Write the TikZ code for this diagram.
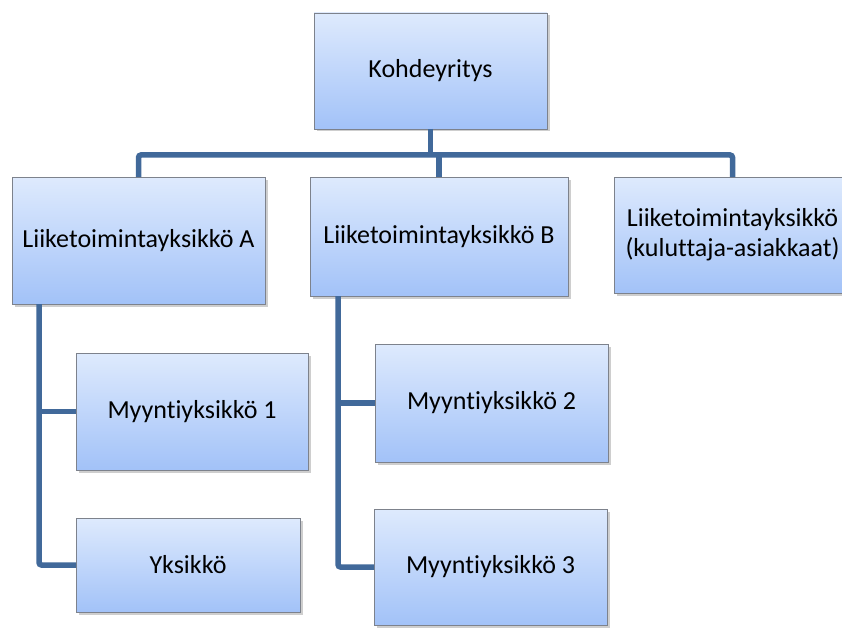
\documentclass[tikz,border=0pt]{standalone}
\usepackage{fontspec}
\setmainfont[Ligatures=NoCommon]{Carlito}
\usetikzlibrary{shadows}

\definecolor{boxtop}{RGB}{222,234,253}
\definecolor{boxbottom}{RGB}{162,194,248}
\definecolor{boxline}{RGB}{125,130,140}
\definecolor{linkblue}{RGB}{65,105,154}

\tikzset{
  unit/.style={rectangle, draw=boxline, line width=0.8pt,
    top color=boxtop, bottom color=boxbottom,
    drop shadow={shadow xshift=2.5pt, shadow yshift=-2.5pt, fill=gray!70, opacity=0.55},
    font=\fontsize{26}{30}\selectfont, align=center,
    inner sep=0pt, outer sep=0pt},
  link/.style={draw=linkblue, line width=5.5pt, rounded corners=2.5pt}
}

\begin{document}
\begin{tikzpicture}[x=1pt, y=-1pt]
    \useasboundingbox (0,0) rectangle (842,631);

    \node[unit, minimum width=233pt, minimum height=116pt] (top) at (430.5, 71) {Kohdeyritys};
    \node[unit, minimum width=253pt, minimum height=127pt] (luA) at (138.5, 240.5) {Liiketoimintayksikkö A};
    \node[unit, minimum width=258pt, minimum height=119pt] (luB) at (439, 236.5) {Liiketoimintayksikkö B};
    \node[unit, minimum width=237pt, minimum height=116pt] (luC) at (732.5, 235) {Liiketoimintayksikkö\\(kuluttaja-asiakkaat)};
    \node[unit, minimum width=232pt, minimum height=117pt] (my1) at (192, 411.5) {Myyntiyksikkö 1};
    \node[unit, minimum width=224pt, minimum height=94pt] (yks) at (188, 565) {Yksikkö};
    \node[unit, minimum width=233pt, minimum height=118pt] (my2) at (491.5, 403) {Myyntiyksikkö 2};
    \node[unit, minimum width=233pt, minimum height=116pt] (my3) at (490.5, 567) {Myyntiyksikkö 3};

    \coordinate (bus) at (0, 155);
    \coordinate (trunkA) at (39, 304);
    \coordinate (trunkB) at (338, 296);

    \draw[link] (top.south) -- (top.south |- bus);
    \draw[link] (luA.north) |- (luC.north |- bus) -- (luC.north);
    \draw[link] (luB.north |- bus) -- (luB.north);

    \draw[link] (trunkA) |- (yks.west);
    \draw[link] (trunkA |- my1.west) -- (my1.west);

    \draw[link] (trunkB) |- (my3.west);
    \draw[link] (trunkB |- my2.west) -- (my2.west);

\end{tikzpicture}
\end{document}
